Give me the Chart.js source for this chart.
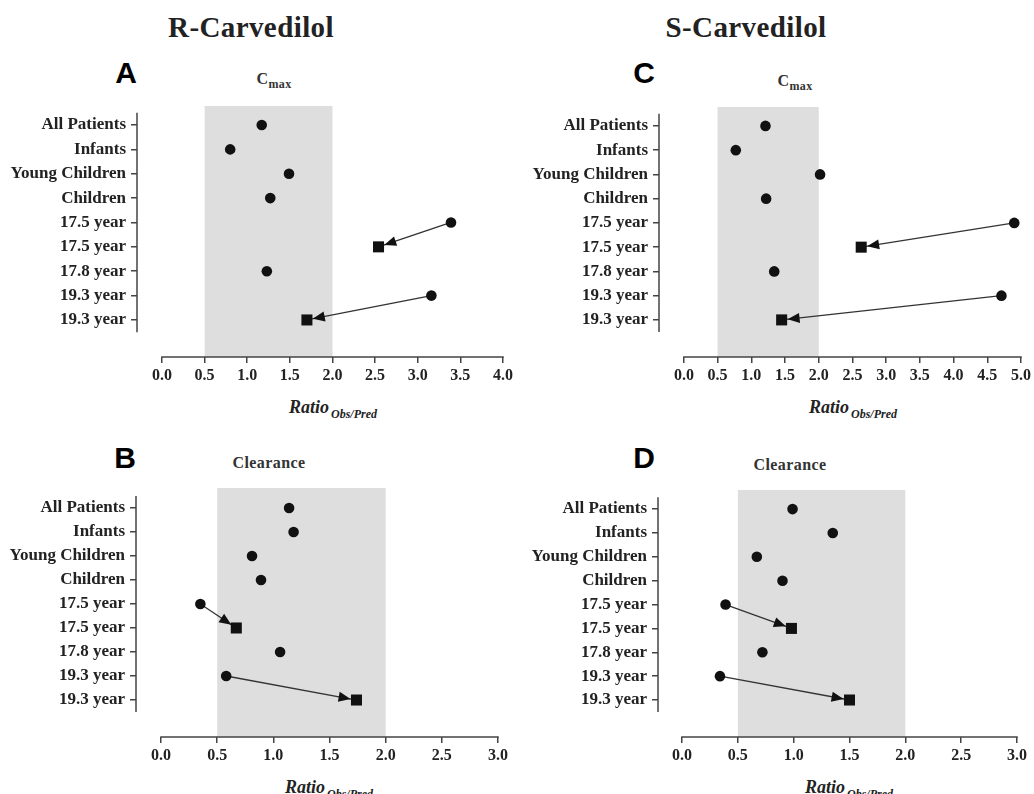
<!DOCTYPE html>
<html>
<head>
<meta charset="utf-8">
<script src="https://cdn.jsdelivr.net/npm/chart.js@4.4.1/dist/chart.umd.min.js"></script>
<style>
  body { margin: 0; background: #fff; width: 1034px; height: 794px; overflow: hidden; position: relative;
         font-family: 'Liberation Serif', 'Times New Roman', serif; color: #222; }
  canvas { position: absolute; }
  .lbl { position: absolute; transform: translate(-50%, -50%); white-space: nowrap; line-height: 1; }
  .title { font-size: 29px; font-weight: bold; letter-spacing: 0.4px; }
  .letter { font-family: 'Liberation Sans', Arial, sans-serif; font-size: 30px; font-weight: bold; color: #000; }
  .sub { font-size: 16px; font-weight: bold; color: #333; letter-spacing: 0.4px; }
  .sub .s { font-size: 12px; position: relative; top: 4px; }
  .ratio { font-size: 18px; font-weight: bold; font-style: italic; color: #222; }
  .ratio .s { font-size: 12px; position: relative; top: 5px; margin-left: 2px; }
</style>
</head>
<body>
<div class="lbl title" style="left:251px;top:27px">R-Carvedilol</div>
<div class="lbl title" style="left:746px;top:27px">S-Carvedilol</div>

<div class="lbl letter" style="left:126px;top:73px">A</div>
<div class="lbl letter" style="left:644px;top:73px">C</div>
<div class="lbl letter" style="left:125px;top:458px">B</div>
<div class="lbl letter" style="left:644px;top:458px">D</div>

<div class="lbl sub" style="left:274px;top:79px">C<span class="s">max</span></div>
<div class="lbl sub" style="left:795px;top:81px">C<span class="s">max</span></div>
<div class="lbl sub" style="left:269px;top:463px">Clearance</div>
<div class="lbl sub" style="left:790px;top:465px">Clearance</div>

<canvas id="chartA" width="520" height="300" style="left:0;top:90px"></canvas>
<canvas id="chartC" width="514" height="300" style="left:520px;top:90px"></canvas>
<canvas id="chartB" width="520" height="300" style="left:0;top:470px"></canvas>
<canvas id="chartD" width="514" height="300" style="left:520px;top:470px"></canvas>

<div class="lbl ratio" style="left:333px;top:407px">Ratio<span class="s">Obs/Pred</span></div>
<div class="lbl ratio" style="left:853px;top:407px">Ratio<span class="s">Obs/Pred</span></div>
<div class="lbl ratio" style="left:329px;top:787px">Ratio<span class="s">Obs/Pred</span></div>
<div class="lbl ratio" style="left:849px;top:787px">Ratio<span class="s">Obs/Pred</span></div>

<script>
// rows, top to bottom
const groups = ['All Patients', 'Infants', 'Young Children', 'Children',
                '17.5 year', '17.5 year', '17.8 year', '19.3 year', '19.3 year'];

// observed/predicted ratios, one per row
const rCmax      = [1.17, 0.80, 1.49, 1.27, 3.39, 2.54, 1.23, 3.16, 1.70];
const rClearance = [1.14, 1.18, 0.81, 0.89, 0.35, 0.67, 1.06, 0.58, 1.74];
const sCmax      = [1.21, 0.77, 2.02, 1.22, 4.90, 2.63, 1.34, 4.71, 1.45];
const sClearance = [0.99, 1.35, 0.67, 0.90, 0.39, 0.98, 0.72, 0.34, 1.50];

// rows drawn as squares (adjusted prediction) and the arrows leading to them
const squareRows = [5, 8];
const arrowPairs = [[4, 5], [7, 8]];

// 0.5 - 2 fold acceptance band
const acceptRange = [0.5, 2.0];

const ticksR  = [0, 0.5, 1, 1.5, 2, 2.5, 3, 3.5, 4];
const ticksS  = [0, 0.5, 1, 1.5, 2, 2.5, 3, 3.5, 4, 4.5, 5];
const ticksCl = [0, 0.5, 1, 1.5, 2, 2.5, 3];

const ink = '#111';
const axisColor = '#444';
const serif = "'Liberation Serif', 'Times New Roman', serif";

function decorPlugin(values) {
  return {
    id: 'decor',
    beforeDatasetsDraw(chart) {
      const { ctx, chartArea, scales: { x } } = chart;
      const l = x.getPixelForValue(acceptRange[0]);
      const r = x.getPixelForValue(acceptRange[1]);
      ctx.save();
      ctx.fillStyle = '#dedede';
      ctx.fillRect(l, chartArea.top, r - l, chartArea.bottom - chartArea.top);
      ctx.restore();
    },
    afterDatasetsDraw(chart) {
      // arrowheads pointing at the squares
      const { ctx, scales: { x, y } } = chart;
      ctx.save();
      ctx.fillStyle = ink;
      arrowPairs.forEach(([from, to]) => {
        const x1 = x.getPixelForValue(values[from]), y1 = y.getPixelForValue(from);
        const x2 = x.getPixelForValue(values[to]), y2 = y.getPixelForValue(to);
        const a = Math.atan2(y2 - y1, x2 - x1);
        const c = Math.cos(a), s = Math.sin(a);
        const tx = x2 - c * 6, ty = y2 - s * 6;
        const bx = tx - c * 12, by = ty - s * 12;
        ctx.beginPath();
        ctx.moveTo(tx, ty);
        ctx.lineTo(bx - s * 5, by + c * 5);
        ctx.lineTo(bx + s * 5, by - c * 5);
        ctx.closePath();
        ctx.fill();
      });
      ctx.restore();
    },
    afterDraw(chart) {
      // detached axis lines: y spans the rows, x spans the ticks
      const { ctx, chartArea, scales: { x, y } } = chart;
      const xt = x.ticks;
      ctx.save();
      ctx.strokeStyle = axisColor;
      ctx.lineWidth = 1.5;
      ctx.beginPath();
      ctx.moveTo(chartArea.left, y.getPixelForValue(-0.5));
      ctx.lineTo(chartArea.left, y.getPixelForValue(groups.length - 0.5));
      ctx.moveTo(x.getPixelForValue(xt[0].value) - 0.75, chartArea.bottom);
      ctx.lineTo(x.getPixelForValue(xt[xt.length - 1].value) + 0.75, chartArea.bottom);
      ctx.stroke();
      ctx.restore();
    }
  };
}

function makePanel(id, values, xTicks, geo) {
  const circles = [], squares = [];
  values.forEach((v, i) => {
    (squareRows.includes(i) ? squares : circles).push({ x: v, y: i });
  });
  const arrows = arrowPairs.map(([from, to]) => ({
    data: [{ x: values[from], y: from }, { x: values[to], y: to }],
    showLine: true,
    borderColor: '#333',
    borderWidth: 1.3,
    pointRadius: 0,
    order: 3
  }));

  new Chart(document.getElementById(id), {
    type: 'scatter',
    data: {
      datasets: [
        ...arrows,
        { data: circles, pointStyle: 'circle', pointRadius: 5.3, backgroundColor: ink, borderWidth: 0, order: 1 },
        { data: squares, pointStyle: 'rect', pointRadius: 7.8, backgroundColor: ink, borderWidth: 0, order: 1 }
      ]
    },
    options: {
      responsive: false,
      animation: false,
      events: [],
      layout: { padding: { left: 0, top: geo.top, right: geo.right, bottom: 0 } },
      plugins: { legend: { display: false }, tooltip: { enabled: false } },
      scales: {
        x: {
          type: 'linear',
          min: geo.xMin,
          max: xTicks[xTicks.length - 1],
          afterBuildTicks: (s) => { s.ticks = xTicks.map(v => ({ value: v })); },
          afterFit: (s) => { s.height = 33; },
          border: { display: false },
          grid: { drawOnChartArea: false, drawTicks: true, tickLength: 6, color: axisColor, lineWidth: 1.5 },
          ticks: {
            callback: (v) => Number(v).toFixed(1),
            maxRotation: 0,
            autoSkip: false,
            padding: 3,
            color: '#222',
            font: { family: serif, weight: 'bold', size: 16 }
          }
        },
        y: {
          type: 'linear',
          reverse: true,
          min: geo.yMin,
          max: geo.yMax,
          afterBuildTicks: (s) => { s.ticks = groups.map((g, i) => ({ value: i })); },
          afterFit: (s) => { s.width = geo.left; },
          border: { display: false },
          grid: { drawOnChartArea: false, drawTicks: true, tickLength: 6, color: axisColor, lineWidth: 1.5 },
          ticks: {
            callback: (v) => groups[v],
            autoSkip: false,
            padding: 5,
            color: '#222',
            font: { family: serif, weight: 'bold', size: 17 }
          }
        }
      }
    },
    plugins: [decorPlugin(values)]
  });
}

makePanel('chartA', rCmax, ticksR,       { left: 137, top: 16, right: 17, xMin: -0.293, yMin: -0.78, yMax: 9.52 });
makePanel('chartC', sCmax, ticksS,       { left: 139, top: 17, right: 11, xMin: -0.369, yMin: -0.78, yMax: 9.53 });
makePanel('chartB', rClearance, ticksCl, { left: 136, top: 18, right: 22, xMin: -0.223, yMin: -0.83, yMax: 9.54 });
makePanel('chartD', sClearance, ticksCl, { left: 138, top: 20, right: 17, xMin: -0.215, yMin: -0.80, yMax: 9.55 });
</script>
</body>
</html>
